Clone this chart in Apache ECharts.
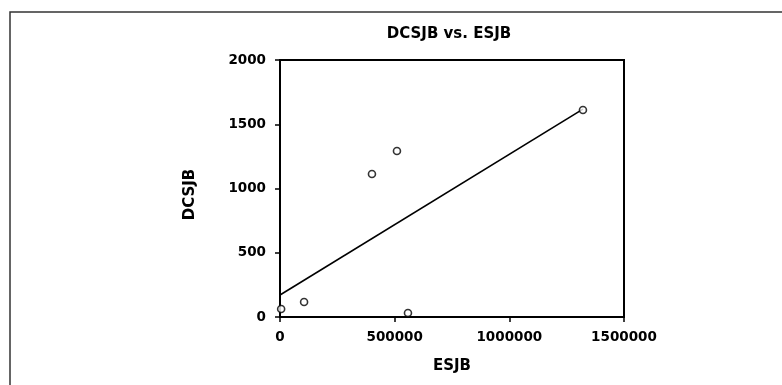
<!DOCTYPE html>
<html><head><meta charset="utf-8">
<script src="https://cdn.jsdelivr.net/npm/echarts@6/dist/echarts.min.js"></script>
<style>html,body{margin:0;padding:0;background:#fff}#c{width:782px;height:385px}</style>
</head><body><div id="c"></div>
<script>
const esjb = [5000, 105000, 401000, 510000, 558000, 1321000];
const dcsjb = [62, 117, 1113, 1292, 31, 1611];
const fitX = [0, 1321000];
const fitY = [171, 1618];
const xTicks = [0, 500000, 1000000, 1500000];
const yTicks = [0, 500, 1000, 1500, 2000];

const chart = echarts.init(document.getElementById('c'));
const font = '"DejaVu Sans", Verdana, sans-serif';
chart.setOption({
  animation: false,
  backgroundColor: '#fff',
  title: { text: 'DCSJB vs. ESJB', left: 444, top: 22, textAlign: 'center',
    textStyle: { fontFamily: font, fontSize: 15, fontWeight: 'bold', color: '#000' } },
  graphic: [{ type: 'polyline', shape: { points: [[10, 385], [10, 12], [782, 12]] },
    style: { stroke: '#333', lineWidth: 1.5, fill: null } }],
  grid: { left: 280, right: 158, top: 60, bottom: 68, show: true, borderColor: '#000', borderWidth: 2, backgroundColor: 'transparent' },
  xAxis: { type: 'value', min: xTicks[0], max: xTicks[xTicks.length-1], interval: 500000,
    name: 'ESJB', nameLocation: 'middle', nameGap: 42,
    nameTextStyle: { fontFamily: font, fontSize: 15, fontWeight: 'bold', color: '#000' },
    axisLine: { show: true, lineStyle: { color: '#000', width: 2 } },
    axisTick: { show: true, length: 5, lineStyle: { color: '#000', width: 1.5 } },
    splitLine: { show: false },
    axisLabel: { fontFamily: font, fontSize: 13.5, fontWeight: 'bold', color: '#000', margin: 13,
      formatter: v => String(v) } },
  yAxis: { type: 'value', min: yTicks[0], max: yTicks[yTicks.length-1], interval: 500,
    name: 'DCSJB', nameLocation: 'middle', nameGap: 82, nameRotate: 90,
    nameTextStyle: { fontFamily: font, fontSize: 15, fontWeight: 'bold', color: '#000', padding: [0, 12, 0, 0] },
    axisLine: { show: true, lineStyle: { color: '#000', width: 2 } },
    axisTick: { show: true, length: 5, lineStyle: { color: '#000', width: 1.5 } },
    splitLine: { show: false },
    axisLabel: { fontFamily: font, fontSize: 13.5, fontWeight: 'bold', color: '#000', margin: 14,
      formatter: v => String(v) } },
  series: [
    { type: 'line', data: fitX.map((x, i) => [x, fitY[i]]), showSymbol: false, symbol: 'none',
      lineStyle: { color: '#000', width: 1.6 }, z: 2 },
    { type: 'scatter', data: esjb.map((x, i) => [x, dcsjb[i]]), symbol: 'circle', symbolSize: 7,
      itemStyle: { color: '#fff', borderColor: '#000', borderWidth: 1.6 }, z: 3 }
  ]
});
</script></body></html>
